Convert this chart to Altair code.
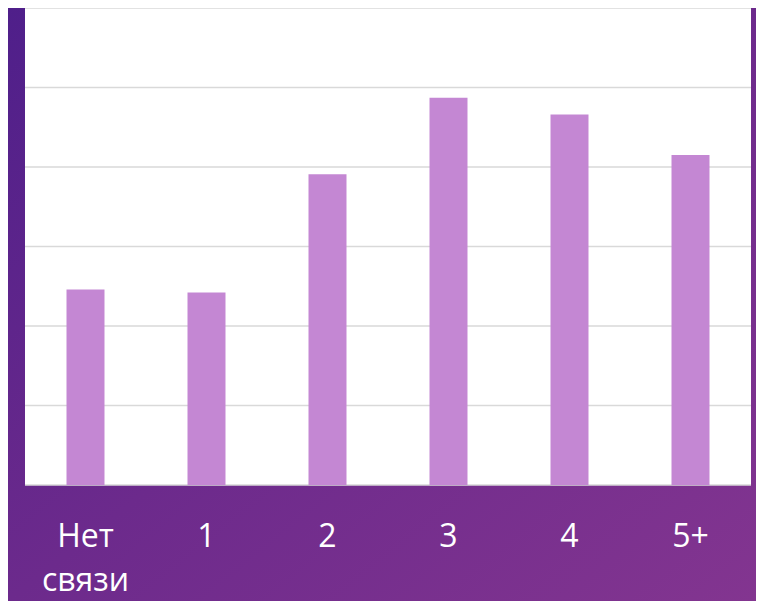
import altair as alt
import pandas as pd

categories = ["Нет связи", "1", "2", "3", "4", "5+"]
values = [2.46, 2.42, 3.91, 4.87, 4.66, 4.15]
grid_levels = [0, 1, 2, 3, 4, 5, 6]

W, H = 726, 477
PAD_L, PAD_R, PAD_T, PAD_B = 17, 5, 0, 116

bars_df = pd.DataFrame({"cat": categories, "val": values})
grid_df = pd.DataFrame({"g": grid_levels})
bg_df = pd.DataFrame({"k": [0]})

xscale = alt.Scale(domain=categories, paddingInner=0.686, paddingOuter=0.343)
yscale = alt.Scale(domain=[0, 6], nice=False, zero=True)

bg = alt.Chart(bg_df).mark_rect(
    fill=alt.Gradient(
        gradient="linear",
        stops=[
            alt.GradientStop(color="#4f1f8a", offset=0),
            alt.GradientStop(color="#6c2a8c", offset=0.5),
            alt.GradientStop(color="#833590", offset=1),
        ],
        x1=0, y1=0, x2=1, y2=1,
    )
).encode(
    x=alt.value(-PAD_L), x2=alt.value(W + PAD_R),
    y=alt.value(-PAD_T), y2=alt.value(H + PAD_B),
)

white = alt.Chart(bg_df).mark_rect(fill="white").encode(
    x=alt.value(0), x2=alt.value(W), y=alt.value(0), y2=alt.value(H)
)

grid = alt.Chart(grid_df).mark_rule(color="#d9d9d9", strokeWidth=1.5).encode(
    y=alt.Y("g:Q", scale=yscale, axis=None),
    x=alt.value(0), x2=alt.value(W),
)

bars = alt.Chart(bars_df).mark_bar(color="#c487d3").encode(
    x=alt.X(
        "cat:N", scale=xscale, sort=categories,
        axis=alt.Axis(
            title=None, labelAngle=0,
            labelExpr="split(datum.label, ' ')",
            labelFontSize=32, labelColor="white", labelFont="Open Sans",
            labelLineHeight=44, labelPadding=36, labelBaseline="top",
            ticks=False, domain=False, grid=False, zindex=1,
        ),
    ),
    y=alt.Y("val:Q", scale=yscale, axis=None),
)

chart = alt.layer(bg, white, grid, bars).properties(
    width=W, height=H,
    autosize=alt.AutoSizeParams(type="none"),
    padding={"left": PAD_L, "right": PAD_R, "top": PAD_T, "bottom": PAD_B},
).configure_view(stroke=None)

chart.save("out.html", embed_options={"renderer": "svg", "actions": False})
